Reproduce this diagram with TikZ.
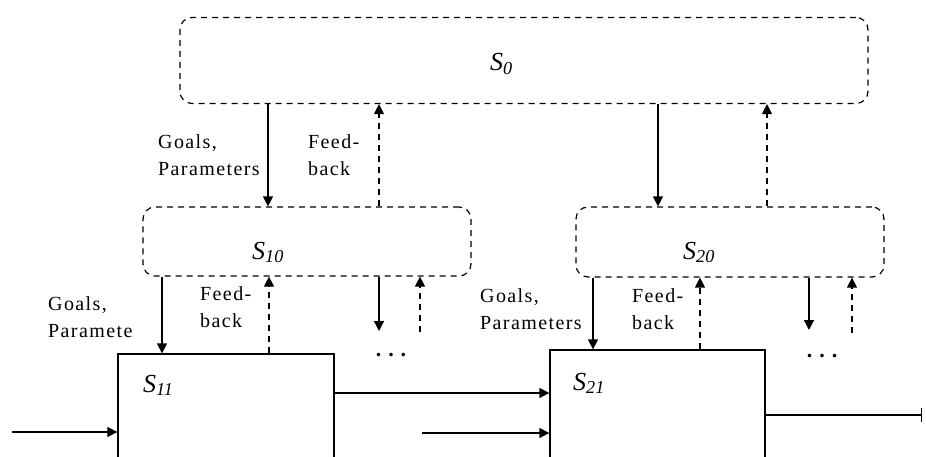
\documentclass[tikz,border=0pt]{standalone}
\usepackage{fontspec}
\setmainfont{Liberation Serif}
\newfontfamily\lblfont[LetterSpace=7]{Liberation Serif}
\usetikzlibrary{arrows.meta}
\tikzset{
  x=1pt, y=-1pt,
  ln/.style={line width=1.3pt},
  dsh/.style={line width=1.2pt, dash pattern=on 6pt off 5pt},
  arr/.style={ln, -{Triangle[length=10pt,width=10pt]}},
  darr/.style={dsh, -{Triangle[length=10pt,width=10pt]}},
  sysbox/.style={dsh, rounded corners=12pt, inner sep=0pt},
  subbox/.style={ln, draw, inner sep=0pt},
  lbl/.style={font=\lblfont\fontsize{20}{27}\selectfont, align=left, anchor=north west, inner sep=0pt},
  sname/.style={font=\itshape\fontsize{26}{26}\selectfont, anchor=base west, inner sep=0pt},
  dots/.style={font=\bfseries\fontsize{22}{22}\selectfont, inner sep=0pt, anchor=base}
}
\begin{document}
\begin{tikzpicture}
\useasboundingbox (0,0) rectangle (926,457);
\clip (0,0) rectangle (926,457);
% system boxes
\node[sysbox, draw, minimum width=688pt, minimum height=86pt] (S0) at (524,60.5) {};
\node[sysbox, draw, minimum width=328pt, minimum height=69pt] (S10) at (307,241.5) {};
\node[sysbox, draw, minimum width=308pt, minimum height=70pt] (S20) at (730,242) {};
\node[subbox, minimum width=216pt, minimum height=130pt] (S11) at (226,419) {};
\node[subbox, minimum width=215pt, minimum height=134pt] (S21) at (657.5,417) {};
% names
\node[sname] (n0) at (490,71) {S\textsubscript{0}};
\node[sname] (n10) at (252,259) {S\textsubscript{10}};
\node[sname] (n20) at (683,259) {S\textsubscript{20}};
\node[sname] (n11) at (143,392) {S\textsubscript{11}};
\node[sname] (n21) at (573,390) {S\textsubscript{21}};
% top level connectors
\draw[arr] (S0.south -| 268,0) -- (S10.north -| 268,0);
\draw[darr] (S10.north -| 379,0) -- (S0.south -| 379,0);
\draw[arr] (S0.south -| 658,0) -- (S20.north -| 658,0);
\draw[darr] (S20.north -| 767,0) -- (S0.south -| 767,0);
% second level connectors
\draw[arr] (S10.south -| 162,0) -- (S11.north -| 162,0);
\draw[darr] (S11.north -| 269,0) -- (S10.south -| 269,0);
\coordinate (c1) at (379,331);
\coordinate (c2) at (420,332);
\draw[arr] (S10.south -| c1) -- (c1);
\draw[darr] (c2) -- (S10.south -| c2);
\draw[arr] (S20.south -| 593,0) -- (S21.north -| 593,0);
\draw[darr] (S21.north -| 700,0) -- (S20.south -| 700,0);
\coordinate (c3) at (809,330);
\coordinate (c4) at (852,333);
\draw[arr] (S20.south -| c3) -- (c3);
\draw[darr] (c4) -- (S20.south -| c4);
\node[dots] (d1) at (391,356) {.\hspace{7pt}.\hspace{7pt}.};
\node[dots] (d2) at (822,357) {.\hspace{7pt}.\hspace{7pt}.};
% flows
\coordinate (in1) at (12,432);
\coordinate (in2) at (422,433);
\coordinate (out) at (922,415);
\draw[arr] (in1) -- (S11.west |- in1);
\draw[arr] (S11.east |- 0,393) -- (S21.west |- 0,393);
\draw[arr] (in2) -- (S21.west |- in2);
\draw[ln, -{Bar[width=14pt]}] (S21.east |- out) -- (out);
% labels
\node[lbl] (g0) at (158,134) {Goals,\\Parameters};
\node[lbl] (f0) at (308,134) {Feed-\\back};
\node[lbl] (g1) at (48,296) {Goals,\\Paramete};
\node[lbl] (f1) at (200,286) {Feed-\\back};
\node[lbl] (g2) at (480,288) {Goals,\\Parameters};
\node[lbl] (f2) at (632,288) {Feed-\\back};
\end{tikzpicture}
\end{document}
